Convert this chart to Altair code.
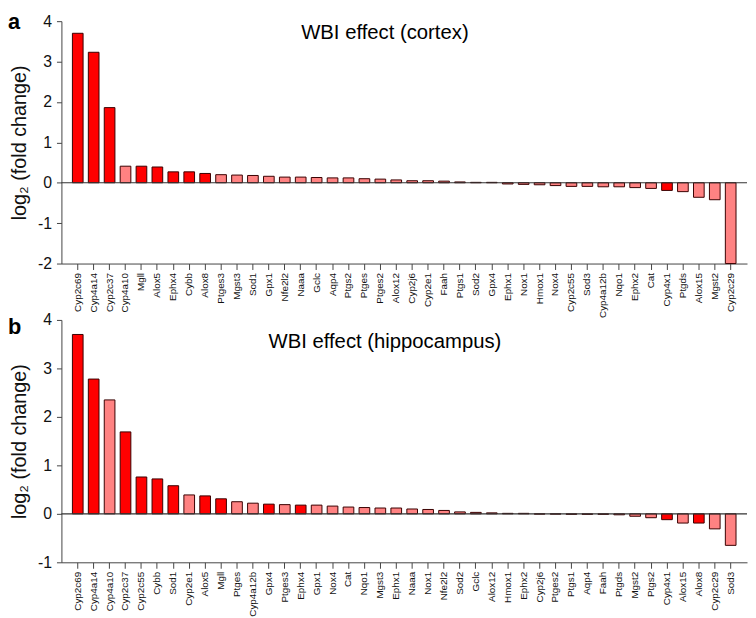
import altair as alt
import pandas as pd

# Panel a: cortex
genes_a = ["Cyp2c69", "Cyp4a14", "Cyp2c37", "Cyp4a10", "Mgll", "Alox5", "Ephx4", "Cybb", "Alox8",
           "Ptges3", "Mgst3", "Sod1", "Gpx1", "Nfe2l2", "Naaa", "Gclc", "Aqp4", "Ptgs2", "Ptges",
           "Ptges2", "Alox12", "Cyp2j6", "Cyp2e1", "Faah", "Ptgs1", "Sod2", "Gpx4", "Ephx1", "Nox1",
           "Hmox1", "Nox4", "Cyp2c55", "Sod3", "Cyp4a12b", "Nqo1", "Ephx2", "Cat", "Cyp4x1", "Ptgds",
           "Alox15", "Mgst2", "Cyp2c29"]
values_a = [3.70, 3.23, 1.86, 0.41, 0.41, 0.39, 0.27, 0.27, 0.23,
            0.20, 0.19, 0.18, 0.16, 0.14, 0.14, 0.13, 0.12, 0.12, 0.10,
            0.09, 0.07, 0.05, 0.05, 0.04, 0.02, 0.01, 0.01, -0.03, -0.04,
            -0.05, -0.07, -0.09, -0.09, -0.10, -0.10, -0.12, -0.14, -0.19, -0.22,
            -0.36, -0.42, -2.0]
sig_a = ["Cyp2c69", "Cyp4a14", "Cyp2c37", "Mgll", "Alox5", "Ephx4", "Cybb", "Alox8", "Cyp4x1"]

# Panel b: hippocampus
genes_b = ["Cyp2c69", "Cyp4a14", "Cyp4a10", "Cyp2c37", "Cyp2c55", "Cybb", "Sod1", "Cyp2e1", "Alox5",
           "Mgll", "Ptges", "Cyp4a12b", "Gpx4", "Ptges3", "Ephx4", "Gpx1", "Nox4", "Cat", "Nqo1",
           "Mgst3", "Ephx1", "Naaa", "Nox1", "Nfe2l2", "Sod2", "Gclc", "Alox12", "Hmox1", "Ephx2",
           "Cyp2j6", "Ptges2", "Ptgs1", "Aqp4", "Faah", "Ptgds", "Mgst2", "Ptgs2", "Cyp4x1", "Alox15",
           "Alox8", "Cyp2c29", "Sod3"]
values_b = [3.70, 2.78, 2.35, 1.69, 0.76, 0.72, 0.58, 0.39, 0.37,
            0.31, 0.25, 0.22, 0.20, 0.19, 0.18, 0.18, 0.16, 0.14, 0.13,
            0.12, 0.12, 0.10, 0.09, 0.07, 0.04, 0.03, 0.02, 0.01, 0.01,
            -0.005, -0.005, -0.01, -0.01, -0.01, -0.02, -0.05, -0.08, -0.12, -0.19,
            -0.19, -0.31, -0.65]
sig_b = ["Cyp2c69", "Cyp4a14", "Cyp2c37", "Cyp2c55", "Cybb", "Sod1", "Alox5", "Mgll", "Gpx4",
         "Ephx4", "Cyp4x1", "Alox8"]

RED = "#ff0000"
PINK = "#ff8282"
FONT = "Liberation Sans"
W = 693
H = 245


def panel(genes, values, sig, ymin, title, letter, title_y, letter_y):
    df = pd.DataFrame({
        "gene": genes,
        "value": values,
        "sig": ["yes" if g in sig else "no" for g in genes],
    })
    yscale = alt.Scale(domain=[ymin, 4], nice=False, zero=False)
    base = alt.Chart(df)
    bars = base.mark_bar(stroke="#3a0000", strokeWidth=1).encode(
        x=alt.X("gene:N", sort=None,
                scale=alt.Scale(paddingInner=0.33, paddingOuter=0.69),
                axis=alt.Axis(title=None, labelAngle=-90, labelFontSize=10, labelFont=FONT,
                              labelColor="#111", tickSize=6, tickColor="#444",
                              domainColor="#444", labelPadding=3, grid=False)),
        y=alt.Y("value:Q", scale=yscale,
                axis=alt.Axis(title="log\u2082 (fold change)", titleFontSize=20, titleFont=FONT,
                              titleFontWeight="normal", titleColor="#111", titlePadding=8,
                              values=list(range(ymin, 5)), labelExpr="'' + datum.value",
                              labelFontSize=16, labelFont=FONT,
                              labelColor="#111", tickSize=5, tickColor="#444",
                              domainColor="#444", labelPadding=5, grid=False)),
        color=alt.Color("sig:N", scale=alt.Scale(domain=["yes", "no"], range=[RED, PINK]),
                        legend=None),
    )
    zero = alt.Chart(pd.DataFrame({"z": [0]})).mark_rule(color="#333", strokeWidth=1.2).encode(
        y=alt.Y("z:Q", scale=yscale))
    ttl = alt.Chart(pd.DataFrame({"t": [title]})).mark_text(
        font=FONT, fontSize=20.5, color="#000", align="center", baseline="middle").encode(
        x=alt.value(327), y=alt.value(title_y), text="t:N")
    let = alt.Chart(pd.DataFrame({"t": [letter]})).mark_text(
        font=FONT, fontSize=22, fontWeight="bold", color="#000", align="left",
        baseline="middle").encode(x=alt.value(-54), y=alt.value(letter_y), text="t:N")
    return alt.layer(bars, zero, ttl, let).properties(width=W, height=H)


pa = panel(genes_a, values_a, sig_a, -2, "WBI effect (cortex)", "a", 12, 1)
pb = panel(genes_b, values_b, sig_b, -1, "WBI effect (hippocampus)", "b", 22, 7)

chart = alt.vconcat(pa, pb, spacing=-6).properties(padding=0).configure_view(stroke=None)

chart.save("out.html", embed_options={"renderer": "svg", "actions": False})
